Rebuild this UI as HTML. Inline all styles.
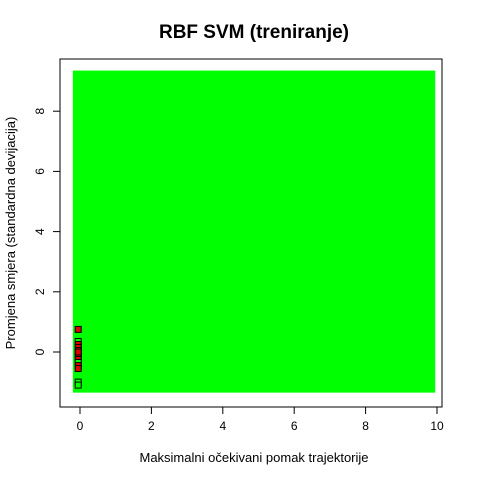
<!DOCTYPE html>
<html><head><style>body{margin:0;background:#fff}svg text{font-family:"Liberation Sans",Arial,sans-serif}</style></head>
<body>
<svg id="c" width="480" height="480" xmlns="http://www.w3.org/2000/svg">
<text x="254" y="38" text-anchor="middle" font-size="19" font-weight="bold">RBF SVM (treniranje)</text>
<text x="254" y="462" text-anchor="middle" font-size="13">Maksimalni očekivani pomak trajektorije</text>
<text transform="translate(15,233) rotate(-90)" text-anchor="middle" font-size="13">Promjena smjera (standardna devijacija)</text>
<g id="g"></g>
</svg>
<script>
const xTicks=[0,2,4,6,8,10];
const yTicks=[0,2,4,6,8];
const region=[-0.2,9.95,-1.35,9.35];
const ptX=[-0.05,-0.05,-0.05,-0.05,-0.05,-0.05,-0.05,-0.05,-0.05,-0.05,-0.05,-0.05,-0.05,-0.05];
const ptY=[0.75,0.35,0.25,0.15,0.05,-0.05,-0.15,-0.25,-0.35,-0.45,-0.55,-1.0,-1.1,0.0];
const ptCls=[1,0,1,1,1,1,1,1,0,1,1,0,0,1];
const sx=v=>80+v*35.7, sy=v=>352-v*30.1;
const g=document.getElementById('g');const NS='http://www.w3.org/2000/svg';
function mk(t,a){const e=document.createElementNS(NS,t);for(const k in a)e.setAttribute(k,a[k]);g.appendChild(e);return e;}
let r=mk('rect',{x:sx(region[0]),y:sy(region[3]),width:sx(region[1])-sx(region[0]),height:sy(region[2])-sy(region[3]),fill:'#00ff00'});


ptY.forEach((v,i)=>{const p=mk('rect',{x:sx(ptX[i])-3,y:sy(v)-3,width:6,height:6,fill:ptCls[i]?'#e00000':'#00ff00',stroke:'#000','stroke-width':1});

});
let b=mk('rect',{x:60,y:59,width:382,height:348,fill:'none',stroke:'#000'});


mk('line',{x1:sx(0),x2:sx(10),y1:407,y2:407,stroke:'#000'});
xTicks.forEach(v=>{mk('line',{x1:sx(v),x2:sx(v),y1:407,y2:414,stroke:'#000'});const t=mk('text',{x:sx(v),y:430,'text-anchor':'middle','font-size':12});t.textContent=v;

});
mk('line',{x1:60,x2:60,y1:sy(0),y2:sy(8),stroke:'#000'});
yTicks.forEach(v=>{mk('line',{x1:53,x2:60,y1:sy(v),y2:sy(v),stroke:'#000'});const t=mk('text',{transform:`translate(44,${sy(v)}) rotate(-90)`,'text-anchor':'middle','font-size':12});t.textContent=v;

});
</script>
</body></html>
